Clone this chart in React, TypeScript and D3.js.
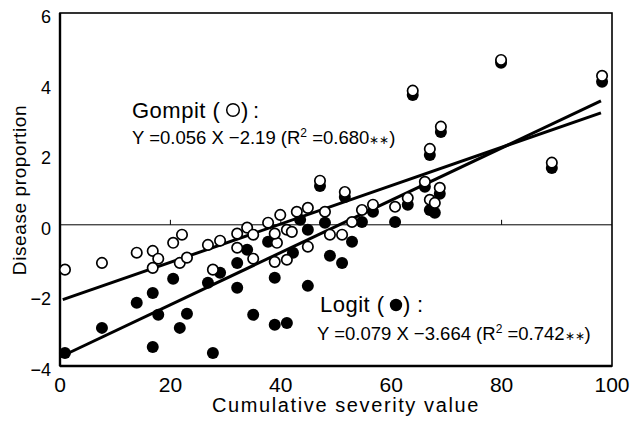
import React from 'react';
import * as d3 from 'd3';

// Gompit (open circles): cumulative severity value, transformed proportion
const gompitX = [0.9, 7.6, 13.9, 16.8, 17.8, 16.8, 20.5, 22.1, 21.7, 23.0, 26.8, 29.0, 27.7, 32.1, 32.1, 33.9, 35.0, 35.0, 37.7, 39.3, 38.9, 39.9, 38.9, 41.1, 41.1, 42.9, 42.0, 44.9, 44.9, 47.1, 48.0, 51.6, 48.9, 51.1, 52.9, 54.7, 56.7, 60.7, 63.0, 66.1, 68.8, 67.0, 67.9, 63.9, 69.0, 67.0, 79.9, 89.1, 98.2];
const gompitY = [-1.27, -1.08, -0.79, -0.74, -0.96, -1.22, -0.51, -0.28, -1.08, -0.93, -0.57, -0.45, -1.27, -0.25, -0.65, -0.08, -0.28, -0.96, 0.06, -0.51, -0.25, 0.28, -1.05, -0.99, -0.14, 0.37, -0.2, 0.48, -0.62, 1.25, 0.37, 0.93, -0.28, -0.28, 0.08, 0.42, 0.57, 0.51, 0.76, 1.22, 1.05, 0.71, 0.62, 3.8, 2.78, 2.15, 4.67, 1.76, 4.22];

// Logit (filled circles)
const logitX = [0.9, 7.6, 13.9, 16.8, 16.8, 17.8, 20.5, 21.7, 23.0, 26.8, 27.7, 29.0, 32.1, 32.1, 33.9, 35.0, 37.7, 38.9, 38.9, 41.1, 42.2, 44.9, 44.9, 43.5, 47.1, 48.0, 48.9, 51.1, 51.6, 52.9, 54.7, 56.7, 60.7, 63.0, 66.1, 68.8, 67.0, 67.9, 63.9, 69.0, 67.0, 79.9, 89.1, 98.2];
const logitY = [-3.63, -2.92, -2.21, -1.93, -3.46, -2.55, -1.53, -2.92, -2.52, -1.64, -3.63, -1.36, -1.08, -1.78, -0.71, -2.55, -0.48, -1.5, -2.83, -2.78, -0.79, -1.73, -0.14, 0.14, 1.1, 0.06, -0.88, -1.08, 0.79, -0.48, 0.08, 0.37, 0.08, 0.57, 1.08, 0.88, 0.42, 0.34, 3.68, 2.63, 1.98, 4.59, 1.61, 4.05];

// fitted lines as drawn (start / end)
const lineX = [0.5, 98];
const gompitLine = [-2.12, 3.17];
const logitLine = [-3.71, 3.51];

const xTicks = [0, 20, 40, 60, 80, 100];
const yTicks = [-4, -2, 0, 2, 4, 6];

const W = 635;
const H = 426;
const font = "'Liberation Sans', Arial, Helvetica, sans-serif";

export default function App() {
  const x = d3.scaleLinear().domain([0, 100]).range([60, 612]);
  const y = d3.scaleLinear().domain([-4, 6]).range([366, 13]);

  const line = d3.line<number>().x((d, i) => x(lineX[i])).y(d => y(d));

  return (
    <div style={{ position: 'absolute', left: 0, top: 0 }}>
      <svg width={W} height={H} style={{ display: 'block', background: '#fff' }} fontFamily={font}>
        {/* frame */}
        <rect x={x(0)} y={y(6)} width={x(100) - x(0)} height={y(-4) - y(6)} fill="none" stroke="#000" strokeWidth={1.6} />
        <line x1={x(0)} x2={x(0)} y1={y(6)} y2={y(-4)} stroke="#000" strokeWidth={2.4} />
        <line x1={x(0)} x2={x(100)} y1={y(-4)} y2={y(-4)} stroke="#000" strokeWidth={2.4} />
        {/* zero line */}
        <line x1={x(0)} x2={x(100)} y1={y(0)} y2={y(0)} stroke="#000" strokeWidth={1} />
        {xTicks.slice(1, -1).map(t => (
          <line key={'zt' + t} x1={x(t)} x2={x(t)} y1={y(0)} y2={y(0) - 5} stroke="#000" strokeWidth={1} />
        ))}

        {/* tick labels */}
        {xTicks.map(t => (
          <text key={'xt' + t} x={x(t)} y={392} fontSize={21} textAnchor="middle">{t}</text>
        ))}
        {yTicks.map(t => (
          <text key={'yt' + t} x={51} y={y(t) + 10} fontSize={18} textAnchor="end">{t < 0 ? '\u2212' + Math.abs(t) : t}</text>
        ))}

        {/* axis titles */}
        <text x={346} y={412} fontSize={20} textAnchor="middle" letterSpacing={1.6}>Cumulative severity value</text>
        <text transform={`translate(26,${190}) rotate(-90)`} fontSize={19} textAnchor="middle" letterSpacing={0.6}>Disease proportion</text>

        {/* regression lines */}
        <path d={line(gompitLine) || ''} fill="none" stroke="#000" strokeWidth={3} />
        <path d={line(logitLine) || ''} fill="none" stroke="#000" strokeWidth={3} />

        {/* points */}
        {logitX.map((v, i) => (
          <circle key={'l' + i} cx={x(v)} cy={y(logitY[i])} r={6} fill="#000" />
        ))}
        {gompitX.map((v, i) => (
          <circle key={'g' + i} cx={x(v)} cy={y(gompitY[i])} r={5.2} fill="#fff" stroke="#000" strokeWidth={1.7} />
        ))}

        {/* annotations */}
        <text x={132} y={118} fontSize={22} letterSpacing={0.5}>Gompit (</text>
        <circle cx={233} cy={110} r={6.3} fill="#fff" stroke="#000" strokeWidth={1.5} />
        <text x={241} y={118} fontSize={22}>)</text>
        <text x={253} y={118} fontSize={22}>:</text>
        <text x={132} y={144} fontSize={18.5}>
          Y =0.056 X −2.19 (R<tspan dy={-7} fontSize={12}>2</tspan><tspan dy={7}> =0.680</tspan><tspan fontSize={12}>∗∗</tspan>)
        </text>

        <text x={320} y={312} fontSize={22} letterSpacing={0.5}>Logit (</text>
        <circle cx={396} cy={305} r={6.2} fill="#000" />
        <text x={403} y={312} fontSize={22}>)</text>
        <text x={417} y={312} fontSize={22}>:</text>
        <text x={317} y={340} fontSize={18.5}>
          Y =0.079 X −3.664 (R<tspan dy={-7} fontSize={12}>2</tspan><tspan dy={7}> =0.742</tspan><tspan fontSize={12}>∗∗</tspan>)
        </text>
      </svg>
    </div>
  );
}
